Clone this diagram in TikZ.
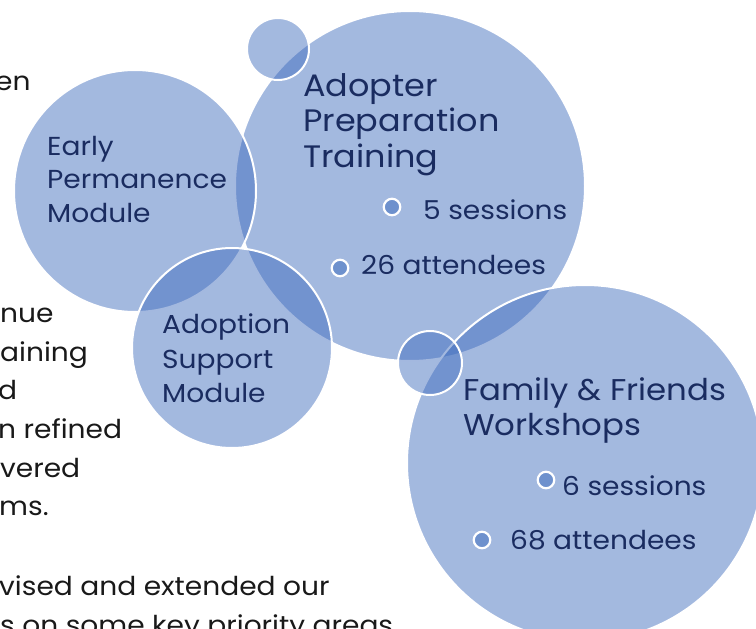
\documentclass[tikz,border=0pt]{standalone}
\usepackage{fontspec}
\setmainfont[FakeStretch=1.08]{Poppins}
\usepackage{xcolor}
\usepackage{tikz}
\usetikzlibrary{positioning}
\definecolor{bubbleblue}{RGB}{60,106,188}
\definecolor{dotblue}{RGB}{110,145,205}
\definecolor{labelnavy}{RGB}{26,44,96}
\definecolor{pagetext}{RGB}{25,25,25}

\begin{document}
\begin{tikzpicture}[x=1pt, y=-1pt,
    bubble/.style={circle, draw=white, line width=2pt, fill=bubbleblue, fill opacity=0.47, draw opacity=1, inner sep=0pt},
    dot/.style={circle, draw=white, line width=2.2pt, fill=dotblue, minimum size=16.5pt, inner sep=0pt},
    head/.style={anchor=north west, inner sep=0pt, align=left, text=labelnavy},
    item/.style={anchor=base west, inner sep=0pt, text=labelnavy, font=\fontsize{26}{30}\selectfont},
    body/.style={anchor=base west, inner sep=0pt, text=pagetext, font=\fontsize{26}{30}\selectfont}
]
    \useasboundingbox (0,0) rectangle (756,629);
    \clip (0,0) rectangle (756,629);

    % Text of the page behind the bubbles
    \node[body] (p1) at (-5,90) {en};
    \node[body] (p2) at (0,322) {nue};
    \node[body] (p3) at (0,361) {aining};
    \node[body] (p4) at (-2,399) {d};
    \node[body] (p5) at (-2,438) {n refined};
    \node[body] (p6) at (0,477) {vered};
    \node[body] (p7) at (-1,515) {ms.};
    \node[body] (p8) at (-1,595) {vised and extended our};
    \node[body] (p9) at (0,634) {s on some key priority areas};

    % Bubbles
    \node[bubble, minimum size=350pt] (apt) at (410,186) {};
    \node[bubble, minimum size=242pt] (epm) at (135,191) {};
    \node[bubble, minimum size=62pt] (knobA) at (278,49) {};
    \node[bubble, minimum size=200pt] (asm) at (232,348) {};
    \node[bubble, minimum size=356pt] (ffw) at (585,463) {};
    \node[bubble, minimum size=64pt] (knobB) at (430,363) {};

    % Titles
    \node[head, font=\fontsize{26}{33.5}\selectfont] (epmtxt) at (47,136) {Early\\Permanence\\Module};
    \node[head, font=\fontsize{31}{35.5}\selectfont] (apttxt) at (303,73) {Adopter\\Preparation\\Training};
    \node[head, font=\fontsize{26}{34.5}\selectfont] (asmtxt) at (162,314) {Adoption\\Support\\Module};
    \node[head, font=\fontsize{30}{35}\selectfont] (ffwtxt) at (463,377) {Family \& Friends\\Workshops};

    % Figures
    \node[dot] (d1) at (392,207) {};
    \node[item] (s1) at (423,219) {5 sessions};
    \node[dot] (d2) at (340,268) {};
    \node[item] (s2) at (361,274) {26 attendees};
    \node[dot] (d3) at (546,480) {};
    \node[item] (s3) at (562,495) {6 sessions};
    \node[dot] (d4) at (482,540) {};
    \node[item] (s4) at (510,549) {68 attendees};
\end{tikzpicture}
\end{document}
